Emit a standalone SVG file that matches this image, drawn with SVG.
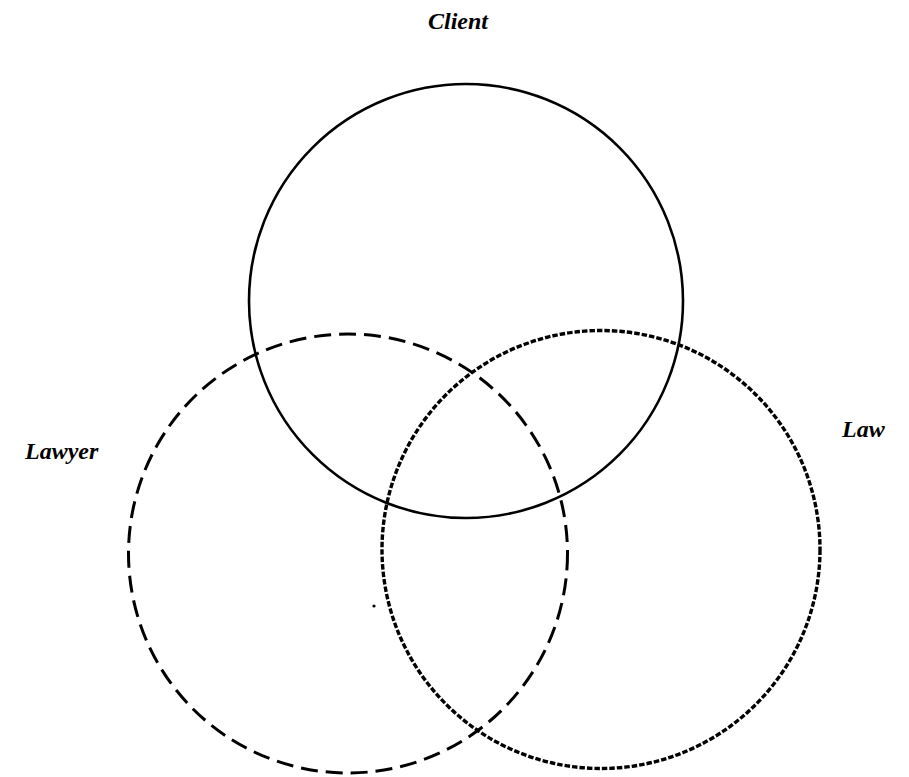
<svg xmlns="http://www.w3.org/2000/svg" width="909" height="777" viewBox="0 0 909 777">
  <style>
    .label { font-family: "Liberation Serif", "Times New Roman", serif; font-weight: bold; font-style: italic; font-size: 24px; fill: #000; }
    .ring { fill: none; stroke: #000; }
    .solid { stroke-width: 2.6; }
    .long-dash { stroke-width: 3; stroke-dasharray: 17 8; }
    .short-dash { stroke-width: 3.4; stroke-dasharray: 5.5 2; }
  </style>
  <rect width="909" height="777" fill="#fff"/>
  <g id="client">
    <circle class="ring solid" cx="466" cy="301" r="217"/>
    <text class="label" x="428" y="29">Client</text>
  </g>
  <g id="lawyer">
    <circle class="ring long-dash" cx="348" cy="553.5" r="219.5"/>
    <text class="label" x="25" y="459">Lawyer</text>
  </g>
  <g id="law">
    <circle class="ring short-dash" cx="601" cy="549.5" r="219"/>
    <text class="label" x="842" y="437">Law</text>
  </g>
  <circle cx="374" cy="606" r="1.6" fill="#000"/>
</svg>
